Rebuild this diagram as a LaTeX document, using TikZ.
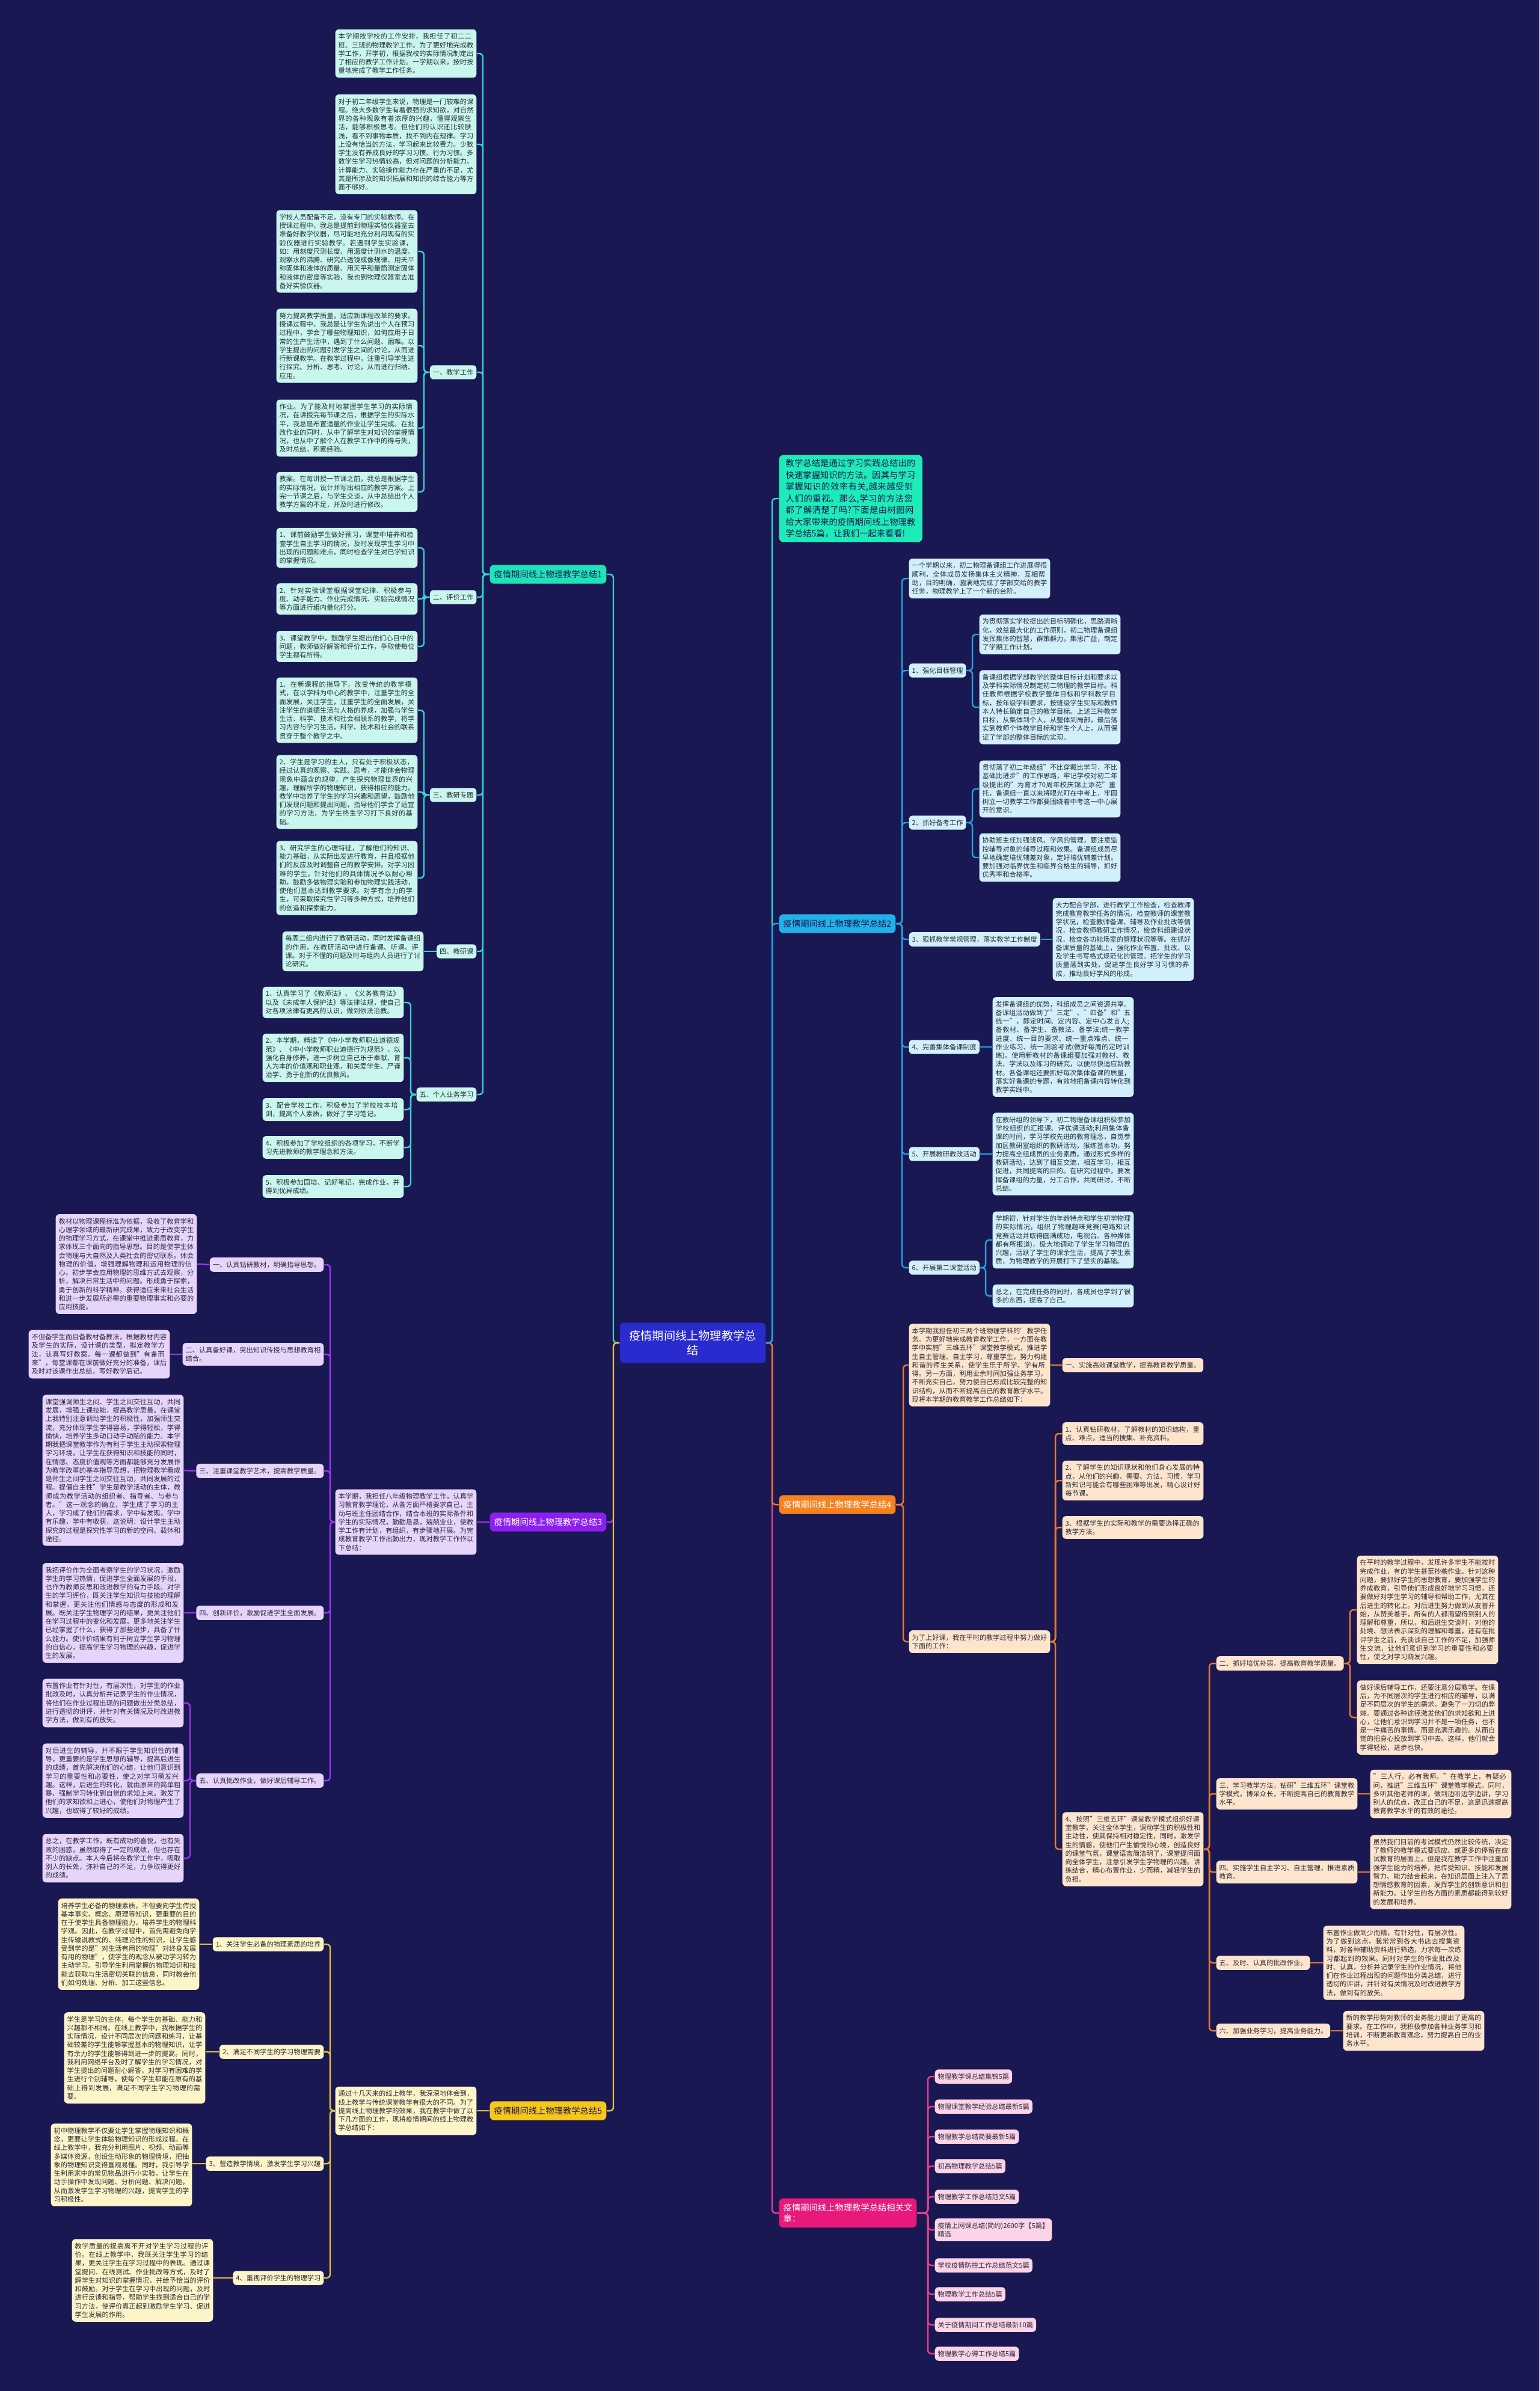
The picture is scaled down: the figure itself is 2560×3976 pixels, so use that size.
\documentclass[tikz,border=0pt]{standalone}
\usepackage{fontspec}
\setmainfont{Noto Sans CJK SC}
\XeTeXlinebreaklocale "zh"
\XeTeXlinebreakskip = 0pt plus 1pt
\usepackage{xcolor}
\usepackage{tikz}

\definecolor{bgc}{HTML}{1A1852}
\definecolor{ink}{HTML}{2B2B3B}
\definecolor{introc}{HTML}{1DEBB8}
\definecolor{tealhead}{HTML}{1FE3B8}
\definecolor{tealline}{HTML}{33D6CC}
\definecolor{tealleaf}{HTML}{C9F7EE}
\definecolor{bluehead}{HTML}{22B2E8}
\definecolor{blueline}{HTML}{1FA3DF}
\definecolor{blueleaf}{HTML}{D2F0FA}
\definecolor{orahead}{HTML}{F5821F}
\definecolor{oraline}{HTML}{E9792C}
\definecolor{oraleaf}{HTML}{FDE5CD}
\definecolor{purhead}{HTML}{8C1FEF}
\definecolor{purline}{HTML}{9B36F4}
\definecolor{purleaf}{HTML}{E6D4FB}
\definecolor{yelhead}{HTML}{F6C71B}
\definecolor{yelline}{HTML}{E4C23C}
\definecolor{yelleaf}{HTML}{FDF5C8}
\definecolor{pinkhead}{HTML}{E8197A}
\definecolor{pinkline}{HTML}{E6408E}
\definecolor{pinkleaf}{HTML}{FBD4E7}
\definecolor{rootc}{HTML}{2A2BCF}

\newcommand\leaffont{\fontsize{3.19pt}{4.05pt}\selectfont}
\newcommand\headfont{\fontsize{4.07pt}{5pt}\selectfont}
\newcommand\introfont{\fontsize{4.07pt}{5.55pt}\selectfont}
\newcommand\rootfont{\fontsize{5.46pt}{6.8pt}\selectfont}

\newcommand\linkleft[4]{\draw[conn=#1] (#2.west) -- (#2.west -| #4) |- (#3.east);}
\newcommand\linkright[4]{\draw[conn=#1] (#2.east) -- (#2.east -| #4) |- (#3.west);}

\tikzset{
  mmbox/.style={rounded corners=0.06cm, inner xsep=0.05cm, inner ysep=0.065cm, font=\leaffont, text=ink},
  leaf/.style={mmbox, fill=#1, text width=2.245cm, align=left},
  lab/.style={mmbox, fill=#1},
  head/.style={rounded corners=0.07cm, inner xsep=0.07cm, inner ysep=0.09cm, font=\headfont, fill=#1},
  conn/.style={draw=#1, line width=0.7pt, rounded corners=0.06cm},
}

\begin{document}
\begin{tikzpicture}[x=0.01cm, y=-0.01cm]
\fill[bgc] (0,0) rectangle (2560,3976);

\coordinate (ltr) at (1020,0);
\coordinate (rtr) at (1284,0);
\coordinate (b1) at (803,0);
\coordinate (b1a) at (705,0);
\coordinate (b1e) at (683,0);
\coordinate (b3) at (549,0);
\coordinate (b35) at (316,0);
\coordinate (b2) at (1500,0);
\coordinate (b2a) at (1617,0);
\coordinate (b2f) at (1639,0);
\coordinate (b4) at (1502,0);
\coordinate (b4h) at (1755,0);
\coordinate (b4k) at (2011,0);
\coordinate (b4k1) at (2245,0);
\coordinate (b6) at (1543,0);

\node[fill=rootc, text=white, font=\rootfont, rounded corners=0.07cm, align=center, minimum width=2.42cm, minimum height=0.67cm] (root) at (1152,2233) {疫情期间线上物理教学总\\结};

\node[head=tealhead, text=bgc, anchor=east] (t1) at (1009,955) {疫情期间线上物理教学总结1};
\node[leaf=tealleaf, anchor=east] (a1) at (793,89) {本学期按学校的工作安排，我担任了初二二班、三班的物理教学工作。为了更好地完成教学工作，开学初，根据我校的实际情况制定出了相应的教学工作计划。一学期以来，按时按量地完成了教学工作任务。};
\node[leaf=tealleaf, anchor=east] (a2) at (793,240) {对于初二年级学生来说，物理是一门较难的课程。绝大多数学生有着很强的求知欲，对自然界的各种现象有着浓厚的兴趣，懂得观察生活，能够积极思考。但他们的认识还比较肤浅，看不到事物本质，找不到内在规律。学习上没有恰当的方法，学习起来比较费力。少数学生没有养成良好的学习习惯、行为习惯。多数学生学习热情较高，但对问题的分析能力、计算能力、实验操作能力存在严重的不足，尤其是所涉及的知识拓展和知识的综合能力等方面不够好。};
\node[lab=tealleaf, anchor=east] (s1) at (793,619) {一、教学工作};
\node[leaf=tealleaf, anchor=east] (s1a) at (695,418) {学校人员配备不足，没有专门的实验教师。在授课过程中，我总是提前到物理实验仪器室去准备好教学仪器，尽可能地充分利用现有的实验仪器进行实验教学。若遇到学生实验课，如：用刻度尺测长度、用温度计测水的温度、观察水的沸腾、研究凸透镜成像规律、用天平称固体和液体的质量、用天平和量筒测定固体和液体的密度等实验，我也到物理仪器室去准备好实验仪器。};
\node[leaf=tealleaf, anchor=east] (s1b) at (695,575) {努力提高教学质量，适应新课程改革的要求。授课过程中，我总是让学生先说出个人在预习过程中，学会了哪些物理知识，如何应用于日常的生产生活中，遇到了什么问题、困难。以学生提出的问题引发学生之间的讨论，从而进行新课教学。在教学过程中，注重引导学生进行探究、分析、思考、讨论，从而进行归纳、应用。};
\node[leaf=tealleaf, anchor=east] (s1c) at (695,712) {作业。为了能及时地掌握学生学习的实际情况，在讲授完每节课之后，根据学生的实际水平，我总是布置适量的作业让学生完成。在批改作业的同时，从中了解学生对知识的掌握情况，也从中了解个人在教学工作中的得与失，及时总结，积累经验。};
\node[leaf=tealleaf, anchor=east] (s1d) at (695,818) {教案。在每讲授一节课之前，我总是根据学生的实际情况，设计并写出相应的教学方案。上完一节课之后，与学生交谈，从中总结出个人教学方案的不足，并及时进行修改。};
\node[lab=tealleaf, anchor=east] (s2) at (793,993) {二、评价工作};
\node[leaf=tealleaf, anchor=east] (s2a) at (695,911) {1、课前鼓励学生做好预习，课堂中培养和检查学生自主学习的情况，及时发现学生学习中出现的问题和难点，同时检查学生对已学知识的掌握情况。};
\node[leaf=tealleaf, anchor=east] (s2b) at (695,996) {2、针对实验课堂根据课堂纪律、积极参与度、动手能力、作业完成情况、实验完成情况等方面进行组内量化打分。};
\node[leaf=tealleaf, anchor=east] (s2c) at (695,1075) {3、课堂教学中，鼓励学生提出他们心目中的问题，教师做好解答和评价工作，争取使每位学生都有所得。};
\node[lab=tealleaf, anchor=east] (s3) at (793,1322) {三、教研专题};
\node[leaf=tealleaf, anchor=east] (s3a) at (695,1181) {1、在新课程的指导下，改变传统的教学模式，在以学科为中心的教学中，注重学生的全面发展，关注学生，注重学生的全面发展，关注学生的道德生活与人格的养成，加强与学生生活、科学、技术和社会相联系的教学，将学习内容与学习生活，科学、技术和社会的联系贯穿于整个教学之中。};
\node[leaf=tealleaf, anchor=east] (s3b) at (695,1317) {2、学生是学习的主人，只有处于积极状态，经过认真的观察、实践、思考，才能体会物理现象中蕴含的规律，产生探究物理世界的兴趣，理解所学的物理知识，获得相应的能力。教学中培养了学生的学习兴趣和愿望，鼓励他们发现问题和提出问题，指导他们学会了适宜的学习方法，为学生终生学习打下良好的基础。};
\node[leaf=tealleaf, anchor=east] (s3c) at (695,1460) {3、研究学生的心理特征，了解他们的知识、能力基础，从实际出发进行教育，并且根据他们的反应及时调整自己的教学安排。对学习困难的学生，针对他们的具体情况予以耐心帮助，鼓励多做物理实验和参加物理实践活动，使他们基本达到教学要求。对学有余力的学生，可采取探究性学习等多种方式，培养他们的创造和探索能力。};
\node[lab=tealleaf, anchor=east] (s4) at (793,1582) {四、教研课};
\node[leaf=tealleaf, anchor=east] (s4a) at (705,1582) {每周二组内进行了教研活动，同时发挥备课组的作用，在教研活动中进行备课、听课、评课。对于不懂的问题及时与组内人员进行了讨论研究。};
\node[lab=tealleaf, anchor=east] (s5) at (793,1820) {五、个人业务学习};
\node[leaf=tealleaf, anchor=east] (s5a) at (672,1667) {1、认真学习了《教师法》、《义务教育法》以及《未成年人保护法》等法律法规，使自己对各项法律有更高的认识，做到依法治教。};
\node[leaf=tealleaf, anchor=east] (s5b) at (672,1759) {2、本学期，精读了《中小学教师职业道德规范》、《中小学教师职业道德行为规范》，以强化自身修养，进一步树立自己乐于奉献、育人为本的价值观和职业观，和关爱学生、严谨治学、勇于创新的优良教风。};
\node[leaf=tealleaf, anchor=east] (s5c) at (672,1845) {3、配合学校工作，积极参加了学校校本培训，提高个人素质，做好了学习笔记。};
\node[leaf=tealleaf, anchor=east] (s5d) at (672,1908) {4、积极参加了学校组织的各项学习，不断学习先进教师的教学理念和方法。};
\node[leaf=tealleaf, anchor=east] (s5e) at (672,1973) {5、积极参加国培、记好笔记，完成作业，并得到优异成绩。};

\node[head=purhead, text=white, anchor=east] (t3) at (1009,2531) {疫情期间线上物理教学总结3};
\node[leaf=purleaf, anchor=east] (p0) at (793,2531) {本学期，我担任八年级物理教学工作，认真学习教育教学理论，从各方面严格要求自己，主动与班主任团结合作，结合本班的实际条件和学生的实际情况，勤勤恳恳，兢兢业业，使教学工作有计划，有组织，有步骤地开展。为完成教育教学工作出勤出力，现对教学工作作以下总结：};
\node[lab=purleaf, anchor=east] (p1) at (539,2103) {一、认真钻研教材，明确指导思想。};
\node[leaf=purleaf, anchor=east] (p1a) at (328,2102) {教材以物理课程标准为依据，吸收了教育学和心理学领域的最新研究成果，致力于改变学生的物理学习方式，在课堂中推进素质教育，力求体现三个面向的指导思想。目的是使学生体会物理与大自然及人类社会的密切联系。体会物理的价值，增强理解物理和运用物理的信心。初步学会应用物理的思维方式去观察，分析，解决日常生活中的问题。形成勇于探索，勇于创新的科学精神。获得适应未来社会生活和进一步发展所必需的重要物理事实和必要的应用技能。};
\node[leaf=purleaf, anchor=east] (p2) at (539,2252) {二、认真备好课，突出知识传授与思想教育相结合。};
\node[leaf=purleaf, anchor=east] (p2a) at (283,2252) {不但备学生而且备教材备教法，根据教材内容及学生的实际，设计课的类型，拟定教学方法，认真写好教案。每一课都做到"有备而来"，每堂课都在课前做好充分的准备，课后及时对该课作出总结，写好教学后记。};
\node[lab=purleaf, anchor=east] (p3) at (539,2446) {三、注重课堂教学艺术，提高教学质量。};
\node[leaf=purleaf, anchor=east] (p3a) at (306,2445) {课堂强调师生之间、学生之间交往互动，共同发展，增强上课技能，提高教学质量。在课堂上我特别注意调动学生的积极性，加强师生交流，充分体现学生学得容易，学得轻松，学得愉快，培养学生多动口动手动脑的能力。本学期我把课堂教学作为有利于学生主动探索物理学习环境，让学生在获得知识和技能的同时，在情感、态度价值观等方面都能够充分发展作为教学改革的基本指导思想，把物理教学看成是师生之间学生之间交往互动，共同发展的过程。提倡自主性"学生是教学活动的主体，教师成为教学活动的组织者、指导者、与参与者。"这一观念的确立，学生成了学习的主人，学习成了他们的需求，学中有发现，学中有乐趣，学中有收获，这说明：设计学生主动探究的过程是探究性学习的新的空间、载体和途径。};
\node[lab=purleaf, anchor=east] (p4) at (539,2682) {四、创新评价，激励促进学生全面发展。};
\node[leaf=purleaf, anchor=east] (p4a) at (306,2682) {我把评价作为全面考察学生的学习状况，激励学生的学习热情，促进学生全面发展的手段，也作为教师反思和改进教学的有力手段。对学生的学习评价，既关注学生知识与技能的理解和掌握，更关注他们情感与态度的形成和发展。既关注学生物理学习的结果，更关注他们在学习过程中的变化和发展。更多地关注学生已经掌握了什么，获得了那些进步，具备了什么能力。使评价结果有利于树立学生学习物理的自信心，提高学生学习物理的兴趣，促进学生的发展。};
\node[lab=purleaf, anchor=east] (p5) at (539,2961) {五、认真批改作业，做好课后辅导工作。};
\node[leaf=purleaf, anchor=east] (p5a) at (306,2832) {布置作业有针对性，有层次性，对学生的作业批改及时，认真分析并记录学生的作业情况，将他们在作业过程出现的问题做出分类总结，进行透彻的讲评，并针对有关情况及时改进教学方法，做到有的放矢。};
\node[leaf=purleaf, anchor=east] (p5b) at (306,2961) {对后进生的辅导，并不限于学生知识性的辅导，更重要的是学生思想的辅导，提高后进生的成绩，首先解决他们的心结，让他们意识到学习的重要性和必要性，使之对学习萌发兴趣。这样，后进生的转化，就由原来的简单粗暴、强制学习转化到自觉的求知上来。激发了他们的求知欲和上进心，使他们对物理产生了兴趣，也取得了较好的成绩。};
\node[leaf=purleaf, anchor=east] (p5c) at (306,3090) {总之，在教学工作，既有成功的喜悦，也有失败的困惑，虽然取得了一定的成绩，但也存在不少的缺点。本人今后将在教学工作中，吸取别人的长处，弥补自己的不足，力争取得更好的成绩。};

\node[head=yelhead, text=bgc, anchor=east] (t5) at (1009,3510) {疫情期间线上物理教学总结5};
\node[leaf=yelleaf, anchor=east] (y0) at (793,3510) {通过十几天来的线上教学，我深深地体会到，线上教学与传统课堂教学有很大的不同。为了提高线上物理教学的效果，我在教学中做了以下几方面的工作，现将疫情期间的线上物理教学总结如下：};
\node[lab=yelleaf, anchor=east] (y1) at (539,3233) {1、关注学生必备的物理素质的培养};
\node[leaf=yelleaf, anchor=east] (y1a) at (332,3233) {培养学生必备的物理素质，不但要向学生传授基本事实、概念、原理等知识，更重要的目的在于使学生具备物理能力，培养学生的物理科学观。因此，在教学过程中，首先需避免向学生传输说教式的、纯理论性的知识，让学生感受到学的是"对生活有用的物理"对终身发展有用的物理"，使学生的观念从被动学习转为主动学习。引导学生利用掌握的物理知识和技能去获取与生活密切关联的信息，同时教会他们如何处理、分析、加工这些信息。};
\node[lab=yelleaf, anchor=east] (y2) at (539,3412) {2、满足不同学生的学习物理需要};
\node[leaf=yelleaf, anchor=east] (y2a) at (342,3422) {学生是学习的主体，每个学生的基础、能力和兴趣都不相同。在线上教学中，我根据学生的实际情况，设计不同层次的问题和练习，让基础较差的学生能够掌握基本的物理知识，让学有余力的学生能够得到进一步的提高。同时，我利用网络平台及时了解学生的学习情况，对学生提出的问题耐心解答，对学习有困难的学生进行个别辅导，使每个学生都能在原有的基础上得到发展，满足不同学生学习物理的需要。};
\node[lab=yelleaf, anchor=east] (y3) at (539,3598) {3、营造教学情境，激发学生学习兴趣};
\node[leaf=yelleaf, anchor=east] (y3a) at (320,3600) {初中物理教学不仅要让学生掌握物理知识和概念，更要让学生体验物理知识的形成过程。在线上教学中，我充分利用图片、视频、动画等多媒体资源，创设生动形象的物理情境，把抽象的物理知识变得直观易懂。同时，我引导学生利用家中的常见物品进行小实验，让学生在动手操作中发现问题、分析问题、解决问题，从而激发学生学习物理的兴趣，提高学生的学习积极性。};
\node[lab=yelleaf, anchor=east] (y4) at (539,3788) {4、重视评价学生的物理学习};
\node[leaf=yelleaf, anchor=east] (y4a) at (355,3792) {教学质量的提高离不开对学生学习过程的评价。在线上教学中，我既关注学生学习的结果，更关注学生在学习过程中的表现。通过课堂提问、在线测试、作业批改等方式，及时了解学生对知识的掌握情况，并给予恰当的评价和鼓励。对于学生在学习中出现的问题，及时进行反馈和指导，帮助学生找到适合自己的学习方法，使评价真正起到激励学生学习、促进学生发展的作用。};

\node[fill=introc, text=bgc, font=\introfont, rounded corners=0.07cm, inner xsep=0.11cm, inner ysep=0.07cm, text width=2.16cm, align=left, anchor=west] (intro) at (1295,829) {教学总结是通过学习实践总结出的快速掌握知识的方法。因其与学习掌握知识的效率有关,越来越受到人们的重视。那么,学习的方法您都了解清楚了吗?下面是由树图网给大家带来的疫情期间线上物理教学总结5篇，让我们一起来看看!};

\node[head=bluehead, text=bgc, anchor=west] (t2) at (1295,1536) {疫情期间线上物理教学总结2};
\node[leaf=blueleaf, anchor=west] (g0) at (1511,962) {一个学期以来，初二物理备课组工作进展得很顺利，全体成员发扬集体主义精神，互相帮助，目的明确，圆满地完成了学部交给的教学任务，物理教学上了一个新的台阶。};
\node[lab=blueleaf, anchor=west] (g1) at (1511,1115) {1、强化目标管理};
\node[leaf=blueleaf, anchor=west] (g1a) at (1628,1055) {为贯彻落实学校提出的目标明确化，思路清晰化，效益最大化的工作原则，初二物理备课组发挥集体的智慧，群策群力，集思广益，制定了学期工作计划。};
\node[leaf=blueleaf, anchor=west] (g1b) at (1628,1176) {备课组根据学部教学的整体目标计划和要求以及学科实际情况制定初二物理的教学目标。科任教师根据学校教学整体目标和学科教学目标，按年级学科要求，按班级学生实际和教师本人特长确定自己的教学目标。上述三种教学目标，从集体到个人，从整体到局部，最后落实到教师个体教学目标和学生个人上，从而保证了学部的整体目标的实现。};
\node[lab=blueleaf, anchor=west] (g2) at (1511,1368) {2、抓好备考工作};
\node[leaf=blueleaf, anchor=west] (g2a) at (1628,1312) {贯彻落了初二年级组"不比穿戴比学习，不比基础比进步"的工作思路，牢记学校对初二年级提出的"为育才70周年校庆锦上添花"重托，备课组一直以来将眼光盯在中考上，牢固树立一切教学工作都要围绕着中考这一中心展开的意识。};
\node[leaf=blueleaf, anchor=west] (g2b) at (1628,1426) {协助班主任加强班风、学风的管理，要注意监控辅导对象的辅导过程和效果。备课组成员尽早地确定培优辅差对象，定好培优辅差计划。要加强对临界优生和临界合格生的辅导，抓好优秀率和合格率。};
\node[lab=blueleaf, anchor=west] (g3) at (1511,1562) {3、狠抓教学常规管理，落实教学工作制度};
\node[leaf=blueleaf, anchor=west] (g3a) at (1750,1562) {大力配合学部，进行教学工作检查，检查教师完成教育教学任务的情况，检查教师的课堂教学状况，检查教师备课、辅导及作业批改等情况，检查教师教研工作情况，检查科组建设状况，检查各功能场室的管理状况等等。在抓好备课质量的基础上，强化作业布置、批改、以及学生书写格式规范化的管理。把学生的学习质量落到实处，促进学生良好学习习惯的养成，推动良好学风的形成。};
\node[lab=blueleaf, anchor=west] (g4) at (1511,1741) {4、完善集体备课制度};
\node[leaf=blueleaf, anchor=west] (g4a) at (1650,1741) {发挥备课组的优势，科组成员之间资源共享。备课组活动做到了"三定"、"四备"和"五统一"，即定时间、定内容、定中心发言人;备教材、备学生、备教法、备学法;统一教学进度、统一目的要求、统一重点难点、统一作业练习、统一测验考试(做好每周的定时训练)。使用新教材的备课组要加强对教材、教法、学法以及练习的研究，以便尽快适应新教材。各备课组还要抓好每次集体备课的质量，落实好备课的专题，有效地把备课内容转化到教学实践中。};
\node[lab=blueleaf, anchor=west] (g5) at (1511,1919) {5、开展教研教改活动};
\node[leaf=blueleaf, anchor=west] (g5a) at (1650,1919) {在教研组的领导下，初二物理备课组积极参加学校组织的汇报课、评优课活动;利用集体备课的时间，学习学校先进的教育理念，自觉参加区教研室组织的教研活动，狠练基本功，努力提高全组成员的业务素质。通过形式多样的教研活动，达到了相互交流，相互学习，相互促进，共同提高的目的。在研究过程中，要发挥备课组的力量，分工合作，共同研讨，不断总结。};
\node[lab=blueleaf, anchor=west] (g6) at (1511,2108) {6、开展第二课堂活动};
\node[leaf=blueleaf, anchor=west] (g6a) at (1650,2062) {学期初，针对学生的年龄特点和学生初学物理的实际情况，组织了物理趣味竞赛(电路知识竞赛活动并取得圆满成功，电视台、各种媒体都有所报道)，极大地调动了学生学习物理的兴趣，活跃了学生的课余生活，提高了学生素质，为物理教学的开展打下了坚实的基础。};
\node[leaf=blueleaf, anchor=west] (g6b) at (1650,2155) {总之，在完成任务的同时，各成员也学到了很多的东西，提高了自己。};

\node[head=orahead, text=white, anchor=west] (t4) at (1295,2502) {疫情期间线上物理教学总结4};
\node[leaf=oraleaf, anchor=west] (h0) at (1511,2270) {本学期我担任初三两个班物理学科的'教学任务。为更好地完成教育教学工作，一方面在教学中实施"三维五环"课堂教学模式，推进学生自主管理、自主学习，尊重学生，努力构建和谐的师生关系，使学生乐于所学、学有所得。另一方面，利用业余时间加强业务学习，不断充实自己，努力使自己形成比较完整的知识结构，从而不断提高自己的教育教学水平。现将本学期的教育教学工作总结如下：};
\node[lab=oraleaf, anchor=west] (h1) at (1766,2270) {一、实施高效课堂教学，提高教育教学质量。};
\node[leaf=oraleaf, anchor=west] (h2) at (1511,2730) {为了上好课，我在平时的教学过程中努力做好下面的工作：};
\node[leaf=oraleaf, anchor=west] (h2a) at (1766,2384) {1、认真钻研教材，了解教材的知识结构，重点、难点，适当的搜集、补充资料。};
\node[leaf=oraleaf, anchor=west] (h2b) at (1766,2462) {2、了解学生的知识现状和他们身心发展的特点，从他们的兴趣、需要、方法、习惯，学习新知识可能会有哪些困难等出发，精心设计好每节课。};
\node[leaf=oraleaf, anchor=west] (h2c) at (1766,2540) {3、根据学生的实际和教学的需要选择正确的教学方法。};
\node[leaf=oraleaf, anchor=west] (h2d) at (1766,3075) {4、按照"三维五环"课堂教学模式组织好课堂教学，关注全体学生，调动学生的积极性和主动性，使其保持相对稳定性，同时，激发学生的情感，使他们产生愉悦的心境，创造良好的课堂气氛，课堂语言简洁明了，课堂提问面向全体学生，注意引发学生学物理的兴趣。讲练结合，精心布置作业，少而精，减轻学生的负担。};
\node[lab=oraleaf, anchor=west] (k1) at (2022,2766) {二、抓好培优补弱，提高教育教学质量。};
\node[leaf=oraleaf, anchor=west] (k1a) at (2256,2677) {在平时的教学过程中，发现许多学生不能按时完成作业，有的学生甚至抄袭作业。针对这种问题，要抓好学生的思想教育，要加强学生的养成教育，引导他们形成良好地学习习惯，还要做好对学生学习的辅导和帮助工作，尤其在后进生的转化上。对后进生努力做到从友善开始，从赞美着手，所有的人都渴望得到别人的理解和尊重，所以，和后进生交谈时，对他的处境、想法表示深刻的理解和尊重，还有在批评学生之前，先谈谈自己工作的不足，加强师生交流，让他们意识到学习的重要性和必要性，使之对学习萌发兴趣。};
\node[leaf=oraleaf, anchor=west] (k1b) at (2256,2856) {做好课后辅导工作，还要注意分层教学。在课后，为不同层次的学生进行相应的辅导，以满足不同层次的学生的需求，避免了一刀切的弊端。要通过各种途径激发他们的求知欲和上进心，让他们意识到学习并不是一项任务，也不是一件痛苦的事情。而是充满乐趣的。从而自觉的把身心投放到学习中去。这样，他们就会学得轻松，进步也快。};
\node[leaf=oraleaf, anchor=west] (k2) at (2022,2983) {三、学习教学方法，钻研"三维五环"课堂教学模式，博采众长，不断提高自己的教育教学水平。};
\node[leaf=oraleaf, anchor=west] (k2a) at (2278,2983) {"三人行，必有我师。"在教学上，有疑必问，推进"三维五环"课堂教学模式。同时，多听其他老师的课，做到边听边学边讲，学习别人的优点，改正自己的不足，这是迅速提高教育教学水平的有效的途径。};
\node[leaf=oraleaf, anchor=west] (k3) at (2022,3113) {四、实施学生自主学习、自主管理，推进素质教育。};
\node[leaf=oraleaf, anchor=west] (k3a) at (2278,3113) {虽然我们目前的考试模式仍然比较传统，决定了教师的教学模式要适应、或更多的停留在应试教育的层面上，但是我在教学工作中注重加强学生能力的培养，把传受知识、技能和发展智力、能力结合起来，在知识层面上注入了思想情感教育的因素，发挥学生的创新意识和创新能力。让学生的各方面的素质都能得到较好的发展和培养。};
\node[lab=oraleaf, anchor=west] (k4) at (2022,3264) {五、及时、认真的批改作业。};
\node[leaf=oraleaf, anchor=west] (k4a) at (2200,3264) {布置作业做到少而精，有针对性，有层次性。为了做到这点，我常常到各大书店去搜集资料，对各种辅助资料进行筛选，力求每一次练习都起到的效果。同时对学生的作业批改及时、认真，分析并记录学生的作业情况，将他们在作业过程出现的问题作出分类总结，进行透切的评讲，并针对有关情况及时改进教学方法，做到有的放矢。};
\node[lab=oraleaf, anchor=west] (k5) at (2022,3377) {六、加强业务学习，提高业务能力。};
\node[leaf=oraleaf, anchor=west] (k5a) at (2233,3377) {新的教学形势对教师的业务能力提出了更高的要求。在工作中，我积极参加各种业务学习和培训，不断更新教育观念，努力提高自己的业务水平。};

\node[head=pinkhead, text=white, align=left, anchor=west] (t6) at (1295,3680) {疫情期间线上物理教学总结相关文\\章：};
\node[lab=pinkleaf, anchor=west] (r1) at (1554,3453) {物理教学课总结集锦5篇};
\node[lab=pinkleaf, anchor=west] (r2) at (1554,3503) {物理课堂教学经验总结最新5篇};
\node[lab=pinkleaf, anchor=west] (r3) at (1554,3553) {物理教学总结简要最新5篇};
\node[lab=pinkleaf, anchor=west] (r4) at (1554,3602) {初高物理教学总结5篇};
\node[lab=pinkleaf, anchor=west] (r5) at (1554,3653) {物理教学工作总结范文5篇};
\node[lab=pinkleaf, anchor=west, align=left] (r6) at (1554,3708) {疫情上网课总结(简约)2600字【5篇】\\精选};
\node[lab=pinkleaf, anchor=west] (r7) at (1554,3767) {学校疫情防控工作总结范文5篇};
\node[lab=pinkleaf, anchor=west] (r8) at (1554,3815) {物理教学工作总结5篇};
\node[lab=pinkleaf, anchor=west] (r9) at (1554,3866) {关于疫情期间工作总结最新10篇};
\node[lab=pinkleaf, anchor=west] (r10) at (1554,3914) {物理教学心得工作总结5篇};

\linkleft{tealline}{root}{t1}{ltr}
\linkleft{purline}{root}{t3}{ltr}
\linkleft{yelline}{root}{t5}{ltr}
\linkright{tealline}{root}{intro}{rtr}
\linkright{pinkline}{root}{t6}{rtr}
\linkright{oraline}{root}{t4}{rtr}
\linkright{blueline}{root}{t2}{rtr}

\foreach \c in {a1,a2,s1,s2,s3,s4,s5} {\linkleft{tealline}{t1}{\c}{b1}}
\foreach \c in {s1a,s1b,s1c,s1d} {\linkleft{tealline}{s1}{\c}{b1a}}
\foreach \c in {s2a,s2b,s2c} {\linkleft{tealline}{s2}{\c}{b1a}}
\foreach \c in {s3a,s3b,s3c} {\linkleft{tealline}{s3}{\c}{b1a}}
\draw[conn=tealline] (s4.west) -- (s4a.east);
\foreach \c in {s5a,s5b,s5c,s5d,s5e} {\linkleft{tealline}{s5}{\c}{b1e}}

\draw[conn=purline] (t3.west) -- (p0.east);
\foreach \c in {p1,p2,p3,p4,p5} {\linkleft{purline}{p0}{\c}{b3}}
\draw[conn=purline] (p1.west) -- (p1a.east);
\draw[conn=purline] (p2.west) -- (p2a.east);
\draw[conn=purline] (p3.west) -- (p3a.east);
\draw[conn=purline] (p4.west) -- (p4a.east);
\foreach \c in {p5a,p5b,p5c} {\linkleft{purline}{p5}{\c}{b35}}

\draw[conn=yelline] (t5.west) -- (y0.east);
\foreach \c in {y1,y2,y3,y4} {\linkleft{yelline}{y0}{\c}{b3}}
\draw[conn=yelline] (y1.west) -- (y1a.east);
\draw[conn=yelline] (y2.west) -- (y2.west -| y2a.east);
\draw[conn=yelline] (y3.west) -- (y3.west -| y3a.east);
\draw[conn=yelline] (y4.west) -- (y4.west -| y4a.east);

\foreach \c in {g0,g1,g2,g3,g4,g5,g6} {\linkright{blueline}{t2}{\c}{b2}}
\foreach \c in {g1a,g1b} {\linkright{blueline}{g1}{\c}{b2a}}
\foreach \c in {g2a,g2b} {\linkright{blueline}{g2}{\c}{b2a}}
\draw[conn=blueline] (g3.east) -- (g3a.west);
\draw[conn=blueline] (g4.east) -- (g4a.west);
\draw[conn=blueline] (g5.east) -- (g5a.west);
\foreach \c in {g6a,g6b} {\linkright{blueline}{g6}{\c}{b2f}}

\foreach \c in {h0,h2} {\linkright{oraline}{t4}{\c}{b4}}
\draw[conn=oraline] (h0.east) -- (h1.west);
\foreach \c in {h2a,h2b,h2c,h2d} {\linkright{oraline}{h2}{\c}{b4h}}
\foreach \c in {k1,k2,k3,k4,k5} {\linkright{oraline}{h2d}{\c}{b4k}}
\foreach \c in {k1a,k1b} {\linkright{oraline}{k1}{\c}{b4k1}}
\draw[conn=oraline] (k2.east) -- (k2a.west);
\draw[conn=oraline] (k3.east) -- (k3a.west);
\draw[conn=oraline] (k4.east) -- (k4a.west);
\draw[conn=oraline] (k5.east) -- (k5a.west);

\foreach \c in {r1,r2,r3,r4,r5,r6,r7,r8,r9,r10} {\linkright{pinkline}{t6}{\c}{b6}}
\end{tikzpicture}
\end{document}
